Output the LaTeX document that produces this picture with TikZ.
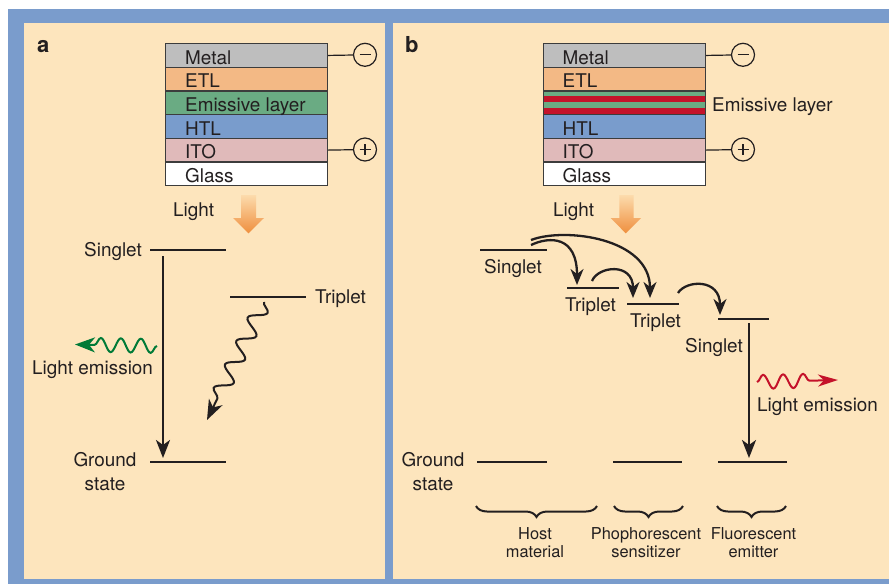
\documentclass[tikz,border=0pt]{standalone}
\usepackage{fontspec}
\setmainfont{TeX Gyre Heros}
\usetikzlibrary{arrows.meta,decorations.pathmorphing,decorations.pathreplacing,calc}
\definecolor{frameblue}{RGB}{122,156,204}
\definecolor{cream}{RGB}{253,229,189}
\definecolor{metalc}{RGB}{190,190,190}
\definecolor{etlc}{RGB}{243,185,133}
\definecolor{emic}{RGB}{106,171,131}
\definecolor{htlc}{RGB}{121,156,204}
\definecolor{itoc}{RGB}{224,186,186}
\definecolor{redc}{RGB}{196,18,42}
\definecolor{txt}{RGB}{35,31,32}
\definecolor{greenarrow}{RGB}{0,122,55}
\definecolor{orangetop}{RGB}{252,219,172}
\definecolor{orangebot}{RGB}{239,143,62}
\definecolor{edge}{RGB}{60,60,60}
\begin{document}
\begin{tikzpicture}[x=1pt,y=-1pt,
  txtc/.style={font=\fontsize{18.9}{23.3}\selectfont, text=txt, inner sep=0pt, text height=13.5pt, text depth=0pt},
  twoline/.style={font=\fontsize{18.9}{23.3}\selectfont, text=txt, inner sep=0pt, align=center},
  smalllbl/.style={font=\fontsize{16.4}{18.7}\selectfont, text=txt, inner sep=0pt, align=center},
  panellbl/.style={font=\fontsize{22}{24}\selectfont\bfseries, text=txt, inner sep=0pt, anchor=base west},
  layer/.style={draw=edge, line width=1.2pt, minimum width=162pt, minimum height=23.67pt, inner sep=0pt, anchor=north west},
  pole/.style={draw=txt, line width=1.2pt, circle, minimum size=23pt, inner sep=0pt},
  wire/.style={draw=txt, line width=1.2pt},
  level/.style={draw=txt, line width=2.8pt},
  trans/.style={draw=txt, line width=2.3pt, -{Stealth[length=18pt,width=14pt,inset=5pt]}},
  curv/.style={draw=txt, line width=2.3pt, -{Stealth[length=16pt,width=13pt,inset=5pt]}},
  wave/.style={line width=2pt, decorate, decoration={snake, amplitude=7pt, segment length=20pt, post length=19pt}},
  brc/.style={draw=txt, line width=2pt, decorate, decoration={brace, mirror, amplitude=11pt}},
  lightarrow/.style={top color=orangetop, bottom color=orangebot, draw=none}
]
\useasboundingbox (0,0) rectangle (889,584);
% background
\fill[white] (0,0) rectangle (889,584);
\fill[frameblue] (8,9) rectangle (889,584);
\fill[cream] (24,23) rectangle (385,579);
\fill[cream] (393,23) rectangle (889,579);

% ================= panel a =================
\node[panellbl] (la) at (37,52) {a};
\node[layer, fill=metalc] (aMetal) at (165,43) {};
\node[layer, fill=etlc] (aETL) at (165,66.67) {};
\node[layer, fill=emic] (aEmi) at (165,90.33) {};
\node[layer, fill=htlc] (aHTL) at (165,114) {};
\node[layer, fill=itoc] (aITO) at (165,137.67) {};
\node[layer, fill=white] (aGlass) at (165,161.33) {};
\node[txtc, anchor=west] at ($(aMetal.west)+(20,2)$) {Metal};
\node[txtc, anchor=west] at ($(aETL.west)+(20,2)$) {ETL};
\node[txtc, anchor=west] at ($(aEmi.west)+(20,2)$) {Emissive layer};
\node[txtc, anchor=west] at ($(aHTL.west)+(20,2)$) {HTL};
\node[txtc, anchor=west] at ($(aITO.west)+(20,2)$) {ITO};
\node[txtc, anchor=west] at ($(aGlass.west)+(20,2)$) {Glass};
\node[pole] (aMinus) at (365,54.8) {};
\node[pole] (aPlus) at (365,149.5) {};
\draw[wire] (aMetal.east) -- (aMinus);
\draw[wire] (aITO.east) -- (aPlus);
\draw[wire] ($(aMinus)+(-5.5,0)$) -- ($(aMinus)+(5.5,0)$);
\draw[wire] ($(aPlus)+(-5.5,0)$) -- ($(aPlus)+(5.5,0)$);
\draw[wire] ($(aPlus)+(0,-5.5)$) -- ($(aPlus)+(0,5.5)$);
\node[txtc, anchor=west] (aLight) at (173,210) {Light};
\shade[lightarrow] (241,195) -- (256,195) -- (256,218) -- (264,218) -- (248.5,233.3) -- (233,218) -- (241,218) -- cycle;

% levels
\coordinate (aS1) at (150,250); \coordinate (aS2) at (226,250);
\coordinate (aT1) at (230,297); \coordinate (aT2) at (306,297);
\coordinate (aG1) at (150,462); \coordinate (aG2) at (226,462);
\draw[level] (aS1) -- (aS2);
\draw[level] (aT1) -- (aT2);
\draw[level] (aG1) -- (aG2);
\node[txtc, anchor=east] (aSlbl) at (142,249.5) {Singlet};
\node[txtc, anchor=west] (aTlbl) at (315,296.3) {Triplet};
\node[twoline] (aGlbl) at (105,471.7) {Ground\\state};
\coordinate (aArrS) at (163,256); \coordinate (aArrE) at (163,458);
\draw[trans] (aArrS) -- (aArrE);
\coordinate (aGw1) at (157,346); \coordinate (aGw2) at (75,344.5);
\draw[wave, greenarrow, -{Stealth[length=20pt,width=15pt,inset=6pt]}] (aGw1) -- (aGw2);
\node[txtc, anchor=west] (aEm) at (32,367.5) {Light emission};
\coordinate (aBw1) at (264,302); \coordinate (aBw2) at (207,420);
\draw[wave, txt, decoration={snake, amplitude=8pt, segment length=26pt, post length=20pt}, -{Stealth[length=20pt,width=15pt,inset=6pt]}] (aBw1) -- (aBw2);

% ================= panel b =================
\node[panellbl] (lb) at (405,52) {b};
\fill[emic] (543,90.33) rectangle (705,96);
\fill[redc] (543,96) rectangle (705,102);
\fill[emic] (543,102) rectangle (705,108);
\fill[redc] (543,108) rectangle (705,114);
\node[layer, fill=metalc] (bMetal) at (543,43) {};
\node[layer, fill=etlc] (bETL) at (543,66.67) {};
\node[layer] (bEmi) at (543,90.33) {};
\node[layer, fill=htlc] (bHTL) at (543,114) {};
\node[layer, fill=itoc] (bITO) at (543,137.67) {};
\node[layer, fill=white] (bGlass) at (543,161.33) {};
\node[txtc, anchor=west] at ($(bMetal.west)+(19.5,2)$) {Metal};
\node[txtc, anchor=west] at ($(bETL.west)+(19.5,2)$) {ETL};
\node[txtc, anchor=west] at ($(bHTL.west)+(19.5,2)$) {HTL};
\node[txtc, anchor=west] at ($(bITO.west)+(19.5,2)$) {ITO};
\node[txtc, anchor=west] at ($(bGlass.west)+(19.5,2)$) {Glass};
\node[txtc, anchor=west] (bEmiLbl) at (712,105) {Emissive layer};
\node[pole] (bMinus) at (743,54.8) {};
\node[pole] (bPlus) at (743,149.5) {};
\draw[wire] (bMetal.east) -- (bMinus);
\draw[wire] (bITO.east) -- (bPlus);
\draw[wire] ($(bMinus)+(-5.5,0)$) -- ($(bMinus)+(5.5,0)$);
\draw[wire] ($(bPlus)+(-5.5,0)$) -- ($(bPlus)+(5.5,0)$);
\draw[wire] ($(bPlus)+(0,-5.5)$) -- ($(bPlus)+(0,5.5)$);
\node[txtc, anchor=west] (bLight) at (553,210) {Light};
\shade[lightarrow] (619.3,195) -- (633.7,195) -- (633.7,218) -- (641,218) -- (625.7,233.3) -- (610.7,218) -- (619.3,218) -- cycle;

% levels
\coordinate (bHS1) at (480,250); \coordinate (bHS2) at (547,250);
\coordinate (bHT1) at (567,288); \coordinate (bHT2) at (619,288);
\coordinate (bST1) at (627,304); \coordinate (bST2) at (679,304);
\coordinate (bES1) at (718,319); \coordinate (bES2) at (769,319);
\coordinate (bHG1) at (477,462); \coordinate (bHG2) at (547,462);
\coordinate (bSG1) at (613,462); \coordinate (bSG2) at (682,462);
\coordinate (bEG1) at (718,462); \coordinate (bEG2) at (787,462);
\draw[level] (bHS1) -- (bHS2);
\draw[level] (bHT1) -- (bHT2);
\draw[level] (bST1) -- (bST2);
\draw[level] (bES1) -- (bES2);
\draw[level] (bHG1) -- (bHG2);
\draw[level] (bSG1) -- (bSG2);
\draw[level] (bEG1) -- (bEG2);
\node[txtc, anchor=west] (bHSl) at (484,267) {Singlet};
\node[txtc, anchor=west] (bHTl) at (565,304.5) {Triplet};
\node[txtc, anchor=west] (bSTl) at (630,320.7) {Triplet};
\node[txtc, anchor=west] (bESl) at (685,345.5) {Singlet};
\node[twoline] (bGlbl) at (433,471.7) {Ground\\state};

% transfer arrows
\coordinate (c1s) at (531,245); \coordinate (c1e) at (577,285);
\coordinate (c2s) at (531,240); \coordinate (c2e) at (650,298);
\coordinate (c3s) at (592,281); \coordinate (c3e) at (633,298);
\coordinate (c4s) at (678,293); \coordinate (c4e) at (720,315);
\draw[curv] (c1s) .. controls (550,236) and (577,236) .. (c1e);
\draw[curv] (c2s) .. controls (565,227) and (650,238) .. (c2e);
\draw[curv] (c3s) .. controls (598,266) and (633,262) .. (c3e);
\draw[curv] (c4s) .. controls (686,280) and (720,278) .. (c4e);

\coordinate (bArrS) at (749,323); \coordinate (bArrE) at (749,458);
\draw[trans] (bArrS) -- (bArrE);
\coordinate (bRw1) at (757,382); \coordinate (bRw2) at (838,380);
\draw[wave, redc, -{Stealth[length=20pt,width=12pt,inset=6pt]}] (bRw1) -- (bRw2);
\node[txtc, anchor=west] (bEm) at (757,404.5) {Light emission};

% braces
\coordinate (br1a) at (476,506); \coordinate (br1b) at (597,506);
\coordinate (br2a) at (614,506); \coordinate (br2b) at (683,506);
\coordinate (br3a) at (717,506); \coordinate (br3b) at (786,506);
\draw[brc] (br1a) -- (br1b);
\draw[brc] (br2a) -- (br2b);
\draw[brc] (br3a) -- (br3b);
\node[smalllbl] (host) at (535,542.5) {Host\\material};
\node[smalllbl] (sens) at (646,542.5) {Phophorescent\\sensitizer};
\node[smalllbl] (emit) at (753.5,542.5) {Fluorescent\\emitter};
\end{tikzpicture}
\end{document}
